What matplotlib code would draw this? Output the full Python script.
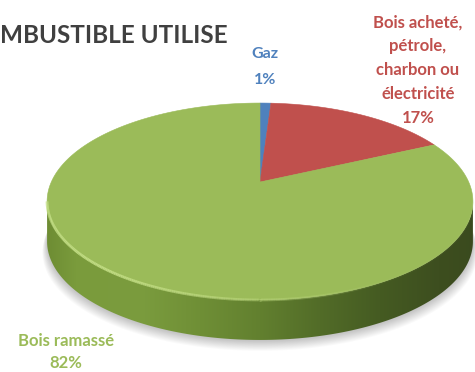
import numpy as np
import matplotlib
matplotlib.use("Agg")
import matplotlib.pyplot as plt
from matplotlib.patches import Polygon
from matplotlib.collections import LineCollection
from matplotlib.colors import LinearSegmentedColormap

# ---- data ----
categories = ["Gaz", "Bois acheté,\npétrole,\ncharbon ou\nélectricité", "Bois ramassé"]
shares = [1, 17, 82]
slice_colors = ["#4f81bd", "#c0504d", "#9bbb59"]
title = "MBUSTIBLE UTILISE"

plt.rcParams["font.family"] = ["Lato", "DejaVu Sans"]

W, H = 475, 372
fig = plt.figure(figsize=(W / 100, H / 100), dpi=100)
ax = fig.add_axes([0, 0, 1, 1])
ax.set_xlim(0, W)
ax.set_ylim(H, 0)
ax.axis("off")

# tilted disc seen in perspective
CX, CY = 260, 182
RX, RY = 208.7, 94.6
K = 0.198
DEPTH = 40


def project(theta, drop=0.0):
    u = np.cos(theta)
    w = np.sin(theta)
    s = 1.0 / (1.0 + K * w)
    return CX + RX * u * s, CY - RY * w * s + drop


# silhouette extremes (vertical tangents)
t_right = np.arcsin(-K)
t_left = -np.pi - t_right
front = np.linspace(t_right, t_left, 300)

# soft shadow under the disc
full = np.linspace(0, 2 * np.pi, 400)
for i in range(12):
    sx, sy = project(full, DEPTH + 1 + i * 0.9)
    sx = CX + (sx - CX) * (1 + i * 0.002)
    ax.add_patch(Polygon(np.column_stack([sx, sy]), closed=True,
                         facecolor="black", edgecolor="none", alpha=0.018, zorder=1))

# side wall with horizontal shading
tx, ty = project(front)
bx, by = project(front[::-1], DEPTH)
side = Polygon(np.column_stack([np.r_[tx, bx], np.r_[ty, by]]), closed=True,
               facecolor="none", edgecolor="none", zorder=2)
ax.add_patch(side)
stops = [(45, "#6d8c33"), (75, "#7a9b3c"), (140, "#7b9c3e"), (200, "#6f8f36"),
         (260, "#62802f"), (320, "#526c28"), (380, "#455b22"), (440, "#3d4e1f"),
         (480, "#3a4a1e")]
x0, x1 = stops[0][0], stops[-1][0]
cmap = LinearSegmentedColormap.from_list(
    "side", [((x - x0) / (x1 - x0), c) for x, c in stops])
grad = np.linspace(0, 1, 512)[None, :].repeat(4, axis=0)
img = ax.imshow(grad, cmap=cmap, extent=(x0, x1, 360, 150), aspect="auto",
                interpolation="bilinear", zorder=2)
img.set_clip_path(side)
ax.set_xlim(0, W)
ax.set_ylim(H, 0)

# top face slices, clockwise from 12 o'clock
start = np.pi / 2
for share, color in zip(shares, slice_colors):
    span = 2 * np.pi * share / 100.0
    th = np.linspace(start, start - span, max(int(share * 4), 8))
    px, py = project(th)
    pts = np.column_stack([np.r_[CX, px], np.r_[CY, py]])
    ax.add_patch(Polygon(pts, closed=True, facecolor=color, edgecolor=color,
                         linewidth=0.4, zorder=3))
    start -= span

# bevel highlight on the front rim
hx, hy = project(front)
segs = np.stack([np.column_stack([hx[:-1], hy[:-1]]),
                 np.column_stack([hx[1:], hy[1:]])], axis=1)
alpha = np.clip(1.1 - (hx[:-1] - 40) / 330.0, 0.05, 0.9)
rgba = np.zeros((len(segs), 4))
rgba[:, :3] = matplotlib.colors.to_rgb("#c4df86")
rgba[:, 3] = alpha
ax.add_collection(LineCollection(segs, colors=rgba, linewidths=2.0, zorder=4))

# title
ax.text(0, 43, title, ha="left", va="baseline", fontsize=17.5,
        fontweight="bold", color="#404040", zorder=5)

# data labels
ax.text(265, 67, f"{categories[0]}\n{shares[0]}%", ha="center", va="center",
        fontsize=11.5, fontweight="bold", color=slice_colors[0],
        linespacing=2.1, zorder=5)
ax.text(418, 70, f"{categories[1]}\n{shares[1]}%", ha="center", va="center",
        fontsize=12, fontweight="bold", color=slice_colors[1],
        linespacing=1.6, zorder=5)
ax.text(66, 352, f"{categories[2]}\n{shares[2]}%", ha="center", va="center",
        fontsize=12, fontweight="bold", color=slice_colors[2],
        linespacing=1.45, zorder=5)

fig.savefig("out.png", dpi=100)
